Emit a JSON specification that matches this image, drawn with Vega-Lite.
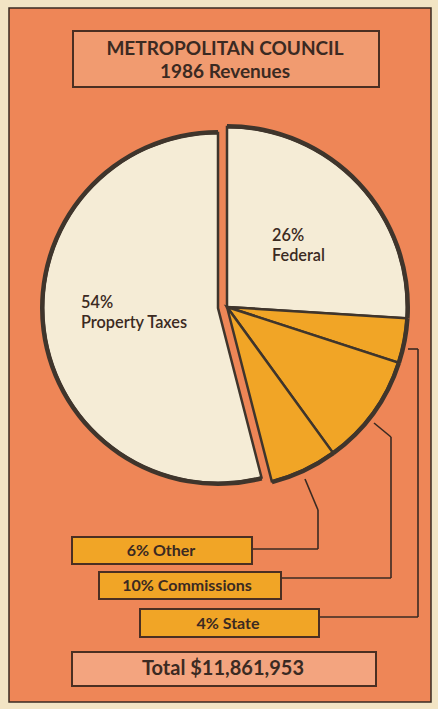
{
  "$schema": "https://vega.github.io/schema/vega-lite/v6.json",
  "width": 438,
  "height": 709,
  "autosize": {"type": "fit", "contains": "padding"},
  "padding": 0,
  "background": "#f2e4c4",
  "config": {"view": {"stroke": null}, "font": "Lato"},
  "datasets": {
    "rev": [
      {"category": "Federal", "share": 26, "order": 1, "pct": "26%", "name": "Federal", "box": "26% Federal"},
      {"category": "State", "share": 4, "order": 2, "pct": "4%", "name": "State", "box": "4% State"},
      {"category": "Commissions", "share": 10, "order": 3, "pct": "10%", "name": "Commissions", "box": "10% Commissions"},
      {"category": "Other", "share": 6, "order": 4, "pct": "6%", "name": "Other", "box": "6% Other"},
      {"category": "Property Taxes", "share": 54, "order": 5, "pct": "54%", "name": "Property Taxes", "box": "54% Property Taxes"}
    ],
    "meta": [{"title1": "METROPOLITAN COUNCIL", "title2": "1986 Revenues", "total": "Total $11,861,953"}]
  },
  "data": {"name": "rev"},
  "layer": [
    {
      "data": {"name": "meta"},
      "mark": {"type": "rect", "fill": "#ee8657", "stroke": "#3a2a22", "strokeWidth": 1.5},
      "encoding": {
        "x": {"datum": 9, "type": "quantitative", "scale": {"domain": [0, 438], "nice": false, "zero": false}, "axis": null},
        "x2": {"datum": 431},
        "y": {"datum": 8, "type": "quantitative", "scale": {"domain": [0, 709], "nice": false, "zero": false, "reverse": true}, "axis": null},
        "y2": {"datum": 702}
      }
    },
    {
      "data": {"name": "meta"},
      "mark": {"type": "rect", "fill": "#f19b70", "stroke": "#4a2f22", "strokeWidth": 2},
      "encoding": {
        "x": {"datum": 73, "type": "quantitative"}, "x2": {"datum": 379},
        "y": {"datum": 31, "type": "quantitative"}, "y2": {"datum": 87}
      }
    },
    {
      "data": {"name": "meta"},
      "mark": {"type": "text", "fontSize": 19, "fontWeight": "bold", "color": "#3b2a22", "align": "center", "baseline": "middle"},
      "encoding": {
        "x": {"datum": 225, "type": "quantitative"},
        "y": {"datum": 49, "type": "quantitative"},
        "text": {"field": "title1"}
      }
    },
    {
      "data": {"name": "meta"},
      "mark": {"type": "text", "fontSize": 19, "fontWeight": "bold", "color": "#3b2a22", "align": "center", "baseline": "middle"},
      "encoding": {
        "x": {"datum": 225, "type": "quantitative"},
        "y": {"datum": 72, "type": "quantitative"},
        "text": {"field": "title2"}
      }
    },
    {
      "transform": [
        {"stack": "share", "groupby": [], "sort": [{"field": "order"}], "as": ["t0", "t1"]},
        {"filter": "datum.category !== 'Property Taxes'"}
      ],
      "mark": {"type": "arc", "radius": 180, "stroke": "#3f352c", "strokeWidth": 2.5, "strokeJoin": "miter"},
      "encoding": {
        "theta": {"field": "t0", "type": "quantitative", "scale": {"domain": [0, 100]}},
        "theta2": {"field": "t1"},
        "color": {"field": "category", "type": "nominal", "legend": null,
          "scale": {"domain": ["Federal", "State", "Commissions", "Other", "Property Taxes"], "range": ["#f5ecd6", "#f1a526", "#f1a526", "#f1a526", "#f5ecd6"]}},
        "x": {"datum": 227, "type": "quantitative"},
        "y": {"datum": 307, "type": "quantitative"}
      }
    },
    {
      "transform": [
        {"stack": "share", "groupby": [], "sort": [{"field": "order"}], "as": ["t0", "t1"]},
        {"filter": "datum.category === 'Property Taxes'"}
      ],
      "mark": {"type": "arc", "radius": 175, "stroke": "#3f352c", "strokeWidth": 2.5, "strokeJoin": "miter"},
      "encoding": {
        "theta": {"field": "t0", "type": "quantitative"},
        "theta2": {"field": "t1"},
        "color": {"field": "category", "type": "nominal", "legend": null},
        "x": {"datum": 218, "type": "quantitative"},
        "y": {"datum": 308, "type": "quantitative"}
      }
    },
    {
      "transform": [
        {"stack": "share", "groupby": [], "sort": [{"field": "order"}], "as": ["t0", "t1"]},
        {"filter": "datum.category !== 'Property Taxes'"}
      ],
      "mark": {"type": "arc", "radius": 183, "innerRadius": 178.5, "fill": "#3f352c"},
      "encoding": {
        "theta": {"field": "t0", "type": "quantitative"},
        "theta2": {"field": "t1"},
        "x": {"datum": 227, "type": "quantitative"},
        "y": {"datum": 307, "type": "quantitative"}
      }
    },
    {
      "transform": [
        {"stack": "share", "groupby": [], "sort": [{"field": "order"}], "as": ["t0", "t1"]},
        {"filter": "datum.category === 'Property Taxes'"}
      ],
      "mark": {"type": "arc", "radius": 178, "innerRadius": 173.5, "fill": "#3f352c"},
      "encoding": {
        "theta": {"field": "t0", "type": "quantitative"},
        "theta2": {"field": "t1"},
        "x": {"datum": 218, "type": "quantitative"},
        "y": {"datum": 308, "type": "quantitative"}
      }
    },
    {
      "transform": [{"filter": "datum.category === 'Federal'"}],
      "mark": {"type": "text", "fontSize": 16.3, "fontWeight": 600, "color": "#3b2a22", "align": "left", "baseline": "middle"},
      "encoding": {"x": {"datum": 272, "type": "quantitative"}, "y": {"datum": 236, "type": "quantitative"}, "text": {"field": "pct"}}
    },
    {
      "transform": [{"filter": "datum.category === 'Federal'"}],
      "mark": {"type": "text", "fontSize": 16.3, "fontWeight": 600, "color": "#3b2a22", "align": "left", "baseline": "middle"},
      "encoding": {"x": {"datum": 272, "type": "quantitative"}, "y": {"datum": 256, "type": "quantitative"}, "text": {"field": "name"}}
    },
    {
      "transform": [{"filter": "datum.category === 'Property Taxes'"}],
      "mark": {"type": "text", "fontSize": 16.3, "fontWeight": 600, "color": "#3b2a22", "align": "left", "baseline": "middle"},
      "encoding": {"x": {"datum": 81, "type": "quantitative"}, "y": {"datum": 303, "type": "quantitative"}, "text": {"field": "pct"}}
    },
    {
      "transform": [{"filter": "datum.category === 'Property Taxes'"}],
      "mark": {"type": "text", "fontSize": 16.3, "fontWeight": 600, "color": "#3b2a22", "align": "left", "baseline": "middle"},
      "encoding": {"x": {"datum": 81, "type": "quantitative"}, "y": {"datum": 323, "type": "quantitative"}, "text": {"field": "name"}}
    },
    {"data": {"name": "meta"}, "mark": {"type": "rule", "stroke": "#3a2a22", "strokeWidth": 1.6},
     "encoding": {"x": {"datum": 408, "type": "quantitative"}, "y": {"datum": 349, "type": "quantitative"}, "x2": {"datum": 418}, "y2": {"datum": 349}}},
    {"data": {"name": "meta"}, "mark": {"type": "rule", "stroke": "#3a2a22", "strokeWidth": 1.6},
     "encoding": {"x": {"datum": 418, "type": "quantitative"}, "y": {"datum": 349, "type": "quantitative"}, "x2": {"datum": 418}, "y2": {"datum": 617}}},
    {"data": {"name": "meta"}, "mark": {"type": "rule", "stroke": "#3a2a22", "strokeWidth": 1.6},
     "encoding": {"x": {"datum": 418, "type": "quantitative"}, "y": {"datum": 617, "type": "quantitative"}, "x2": {"datum": 320}, "y2": {"datum": 617}}},
    {"data": {"name": "meta"}, "mark": {"type": "rule", "stroke": "#3a2a22", "strokeWidth": 1.6},
     "encoding": {"x": {"datum": 374, "type": "quantitative"}, "y": {"datum": 423, "type": "quantitative"}, "x2": {"datum": 391}, "y2": {"datum": 437}}},
    {"data": {"name": "meta"}, "mark": {"type": "rule", "stroke": "#3a2a22", "strokeWidth": 1.6},
     "encoding": {"x": {"datum": 391, "type": "quantitative"}, "y": {"datum": 437, "type": "quantitative"}, "x2": {"datum": 391}, "y2": {"datum": 578}}},
    {"data": {"name": "meta"}, "mark": {"type": "rule", "stroke": "#3a2a22", "strokeWidth": 1.6},
     "encoding": {"x": {"datum": 391, "type": "quantitative"}, "y": {"datum": 578, "type": "quantitative"}, "x2": {"datum": 281}, "y2": {"datum": 578}}},
    {"data": {"name": "meta"}, "mark": {"type": "rule", "stroke": "#3a2a22", "strokeWidth": 1.6},
     "encoding": {"x": {"datum": 305, "type": "quantitative"}, "y": {"datum": 479, "type": "quantitative"}, "x2": {"datum": 318}, "y2": {"datum": 510}}},
    {"data": {"name": "meta"}, "mark": {"type": "rule", "stroke": "#3a2a22", "strokeWidth": 1.6},
     "encoding": {"x": {"datum": 318, "type": "quantitative"}, "y": {"datum": 510, "type": "quantitative"}, "x2": {"datum": 318}, "y2": {"datum": 549}}},
    {"data": {"name": "meta"}, "mark": {"type": "rule", "stroke": "#3a2a22", "strokeWidth": 1.6},
     "encoding": {"x": {"datum": 318, "type": "quantitative"}, "y": {"datum": 549, "type": "quantitative"}, "x2": {"datum": 252}, "y2": {"datum": 549}}},
    {
      "transform": [{"filter": "datum.category === 'Other'"}],
      "mark": {"type": "rect", "fill": "#f1a526", "stroke": "#4a2f22", "strokeWidth": 2},
      "encoding": {"x": {"datum": 72, "type": "quantitative"}, "x2": {"datum": 252}, "y": {"datum": 537, "type": "quantitative"}, "y2": {"datum": 564}}
    },
    {
      "transform": [{"filter": "datum.category === 'Commissions'"}],
      "mark": {"type": "rect", "fill": "#f1a526", "stroke": "#4a2f22", "strokeWidth": 2},
      "encoding": {"x": {"datum": 99, "type": "quantitative"}, "x2": {"datum": 281}, "y": {"datum": 572, "type": "quantitative"}, "y2": {"datum": 599}}
    },
    {
      "transform": [{"filter": "datum.category === 'State'"}],
      "mark": {"type": "rect", "fill": "#f1a526", "stroke": "#4a2f22", "strokeWidth": 2},
      "encoding": {"x": {"datum": 140, "type": "quantitative"}, "x2": {"datum": 319}, "y": {"datum": 609, "type": "quantitative"}, "y2": {"datum": 637}}
    },
    {
      "data": {"name": "meta"},
      "mark": {"type": "rect", "fill": "#f3a47f", "stroke": "#4a2f22", "strokeWidth": 2},
      "encoding": {"x": {"datum": 72, "type": "quantitative"}, "x2": {"datum": 376}, "y": {"datum": 652, "type": "quantitative"}, "y2": {"datum": 686}}
    },
    {
      "transform": [{"filter": "datum.category === 'Other'"}],
      "mark": {"type": "text", "fontSize": 16, "fontWeight": "bold", "color": "#3b2a22", "align": "center", "baseline": "middle"},
      "encoding": {"x": {"datum": 161, "type": "quantitative"}, "y": {"datum": 551, "type": "quantitative"}, "text": {"field": "box"}}
    },
    {
      "transform": [{"filter": "datum.category === 'Commissions'"}],
      "mark": {"type": "text", "fontSize": 16, "fontWeight": "bold", "color": "#3b2a22", "align": "center", "baseline": "middle"},
      "encoding": {"x": {"datum": 187, "type": "quantitative"}, "y": {"datum": 586, "type": "quantitative"}, "text": {"field": "box"}}
    },
    {
      "transform": [{"filter": "datum.category === 'State'"}],
      "mark": {"type": "text", "fontSize": 16, "fontWeight": "bold", "color": "#3b2a22", "align": "center", "baseline": "middle"},
      "encoding": {"x": {"datum": 228, "type": "quantitative"}, "y": {"datum": 624, "type": "quantitative"}, "text": {"field": "box"}}
    },
    {
      "data": {"name": "meta"},
      "mark": {"type": "text", "fontSize": 20, "fontWeight": "bold", "color": "#3b2a22", "align": "center", "baseline": "middle"},
      "encoding": {"x": {"datum": 223, "type": "quantitative"}, "y": {"datum": 669, "type": "quantitative"}, "text": {"field": "total"}}
    }
  ]
}
